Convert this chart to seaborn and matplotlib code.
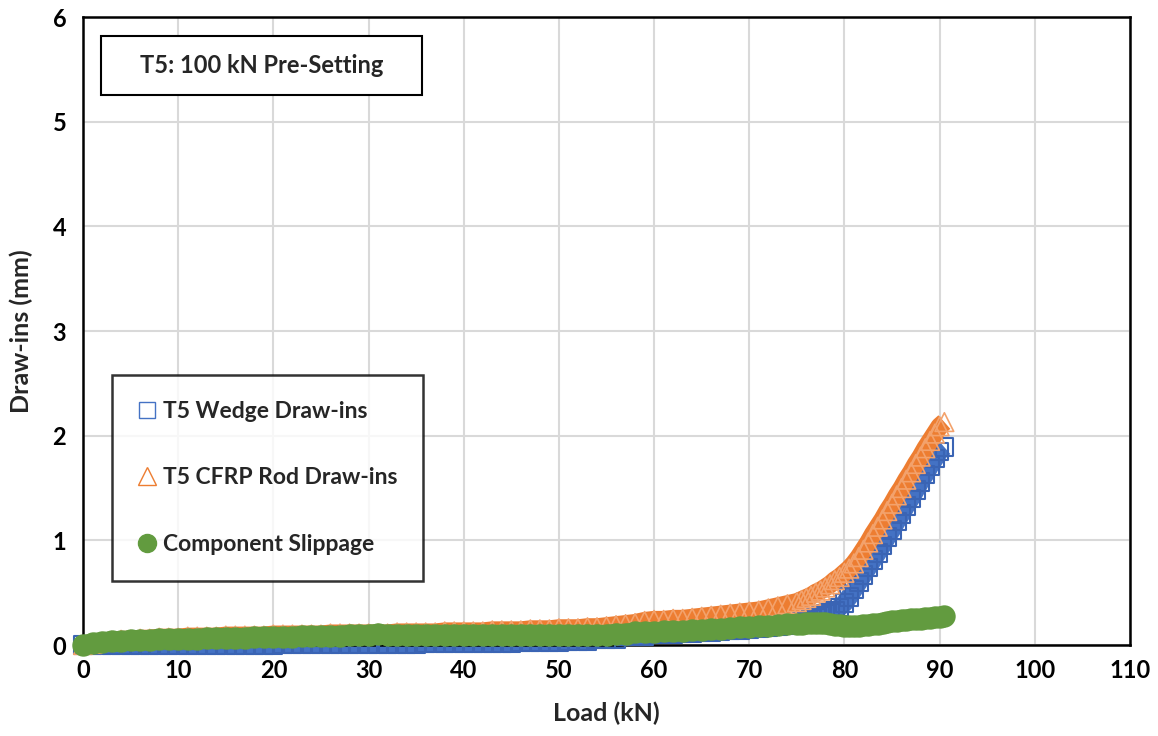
import numpy as np
import pandas as pd
import matplotlib
matplotlib.use("Agg")
import matplotlib.pyplot as plt
import seaborn as sns
from matplotlib.lines import Line2D
from matplotlib.patches import Rectangle

# Load (kN) readings shared by the three series
load = [0, 1, 2, 3, 4, 5, 6, 7, 8, 9,
        10, 11, 12, 13, 14, 15, 16, 17, 18, 19,
        20, 21, 22, 23, 24, 25, 26, 27, 28, 29,
        30, 31, 32, 33, 34, 35, 36, 37, 38, 39,
        40, 41, 42, 43, 44, 45, 46, 47, 48, 49,
        50, 51, 52, 53, 54, 55, 56, 57, 58, 59,
        60, 61, 62, 63, 64, 65, 66, 67, 68, 69,
        70, 71, 72, 73, 74, 75,
        75.5, 76, 76.5, 77, 77.5, 78, 78.5, 79, 79.5, 80,
        80.5, 81, 81.5, 82, 82.5, 83, 83.5, 84, 84.5, 85,
        85.5, 86, 86.5, 87, 87.5, 88, 88.5, 89, 89.5, 90, 90.5]

wedge = [0.0, 0.0, 0.0, 0.0, 0.0, 0.0, 0.0, 0.0, 0.0, 0.0,
         0.0, 0.0, 0.0, 0.0, 0.0, 0.0, 0.0, 0.0, 0.0, 0.0,
         0.0, 0.01, 0.01, 0.01, 0.01, 0.01, 0.01, 0.01, 0.01, 0.01,
         0.01, 0.01, 0.01, 0.01, 0.01, 0.01, 0.02, 0.02, 0.02, 0.02,
         0.02, 0.02, 0.02, 0.02, 0.02, 0.02, 0.03, 0.03, 0.03, 0.03,
         0.03, 0.04, 0.04, 0.04, 0.06, 0.06, 0.06, 0.08, 0.08, 0.08,
         0.1, 0.1, 0.1, 0.11, 0.11, 0.12, 0.12, 0.13, 0.14, 0.14,
         0.15, 0.16, 0.17, 0.18, 0.19, 0.2,
         0.22, 0.23, 0.25, 0.26, 0.28, 0.3, 0.31, 0.33, 0.36, 0.4,
         0.46, 0.53, 0.6, 0.67, 0.74, 0.81, 0.88, 0.95, 1.03, 1.1,
         1.18, 1.25, 1.33, 1.4, 1.48, 1.56, 1.63, 1.71, 1.78, 1.85, 1.89]

rod = [0.0, 0.01, 0.03, 0.04, 0.05, 0.05, 0.06, 0.06, 0.07, 0.07,
       0.07, 0.08, 0.08, 0.08, 0.08, 0.09, 0.09, 0.09, 0.09, 0.09,
       0.1, 0.1, 0.1, 0.1, 0.1, 0.1, 0.11, 0.11, 0.11, 0.11,
       0.11, 0.11, 0.11, 0.12, 0.12, 0.12, 0.12, 0.12, 0.13, 0.13,
       0.13, 0.13, 0.13, 0.14, 0.14, 0.14, 0.14, 0.15, 0.15, 0.15,
       0.16, 0.16, 0.16, 0.17, 0.17, 0.18, 0.19, 0.2, 0.21, 0.23,
       0.24, 0.24, 0.25, 0.25, 0.26, 0.27, 0.28, 0.29, 0.3, 0.31,
       0.32, 0.33, 0.35, 0.37, 0.39, 0.41,
       0.43, 0.45, 0.47, 0.5, 0.52, 0.55, 0.58, 0.62, 0.65, 0.69,
       0.73, 0.78, 0.84, 0.91, 0.98, 1.06, 1.13, 1.2, 1.28, 1.35,
       1.43, 1.5, 1.58, 1.65, 1.73, 1.8, 1.88, 1.95, 2.02, 2.09, 2.13]

slippage = [0.0, 0.02, 0.03, 0.04, 0.04, 0.05, 0.05, 0.05, 0.06, 0.06,
            0.06, 0.06, 0.06, 0.07, 0.07, 0.07, 0.07, 0.07, 0.08, 0.08,
            0.08, 0.08, 0.08, 0.09, 0.09, 0.09, 0.09, 0.09, 0.1, 0.1,
            0.1, 0.11, 0.1, 0.1, 0.1, 0.1, 0.1, 0.1, 0.1, 0.1,
            0.1, 0.1, 0.1, 0.1, 0.1, 0.1, 0.1, 0.1, 0.1, 0.1,
            0.1, 0.1, 0.1, 0.1, 0.1, 0.1, 0.11, 0.11, 0.12, 0.12,
            0.12, 0.13, 0.13, 0.13, 0.14, 0.14, 0.15, 0.15, 0.16, 0.17,
            0.17, 0.18, 0.18, 0.19, 0.2, 0.2,
            0.2, 0.21, 0.21, 0.21, 0.21, 0.21, 0.2, 0.19, 0.19, 0.18,
            0.18, 0.18, 0.18, 0.19, 0.19, 0.2, 0.2, 0.21, 0.22, 0.23,
            0.23, 0.24, 0.24, 0.25, 0.25, 0.25, 0.26, 0.26, 0.27, 0.27, 0.28]

series_names = ["T5 Wedge Draw-ins", "T5 CFRP Rod Draw-ins", "Component Slippage"]
blue = "#4472C4"
orange = "#ED7D31"
green = "#629B3F"

df = pd.DataFrame({"load": load, "wedge": wedge, "rod": rod, "slip": slippage})

sns.set_style("white")
plt.rcParams["font.family"] = ["Lato", "DejaVu Sans"]
plt.rcParams["font.weight"] = "bold"

fig = plt.figure(figsize=(11.58, 7.36), dpi=100)
ax = fig.add_axes([0.0717, 0.1236, 0.9041, 0.8533])

# the logger wrote hundreds of overlapping markers -> thick band underneath
sns.lineplot(data=df, x="load", y="wedge", ax=ax, color=blue, linewidth=13,
             solid_capstyle="butt", solid_joinstyle="round",
             sort=False, estimator=None, clip_on=False, zorder=2, legend=False)
sns.scatterplot(data=df, x="load", y="wedge", ax=ax, marker="s", s=160,
                facecolors="none", edgecolors="#3a64b4", linewidth=1.5,
                clip_on=False, zorder=3, legend=False)
sns.lineplot(data=df, x="load", y="rod", ax=ax, color=orange, linewidth=13,
             solid_capstyle="butt", solid_joinstyle="round",
             sort=False, estimator=None, clip_on=False, zorder=3.5, legend=False)
sns.scatterplot(data=df, x="load", y="rod", ax=ax, marker="^", s=180,
                facecolors="none", edgecolors="#f3a26c", linewidth=1.2,
                clip_on=False, zorder=4, legend=False)
sns.lineplot(data=df, x="load", y="slip", ax=ax, color=green, linewidth=14,
             solid_capstyle="butt", solid_joinstyle="round",
             sort=False, estimator=None, clip_on=False, zorder=4.5, legend=False)
sns.scatterplot(data=df, x="load", y="slip", ax=ax, marker="o", s=260,
                color=green, edgecolor=green, linewidth=0,
                clip_on=False, zorder=5, legend=False)

ax.set_xlim(0, 110)
ax.set_ylim(0, 6)
ax.set_xticks(np.arange(0, 111, 10))
ax.set_yticks(np.arange(0, 7, 1))
ax.grid(True, color="#d9d9d9", linewidth=1.5, zorder=0)
ax.set_axisbelow(True)
for sp in ax.spines.values():
    sp.set_color("black")
    sp.set_linewidth(1.8)
ax.tick_params(axis="both", direction="inout", length=12, width=1.8,
               labelsize=17, colors="black")
ax.tick_params(axis="y", pad=6)
ax.tick_params(axis="x", pad=4)
for lab in ax.get_xticklabels() + ax.get_yticklabels():
    lab.set_fontweight("bold")

ax.set_xlabel("Load (kN)", fontsize=18, fontweight="bold", labelpad=14)
ax.set_ylabel("Draw-ins (mm)", fontsize=18, fontweight="bold", labelpad=14)

ax.add_patch(Rectangle((0.0172, 0.8756), 0.3066, 0.0941, transform=ax.transAxes,
                       facecolor="white", edgecolor="black", linewidth=1.5,
                       zorder=6, clip_on=False))
ax.text(0.1705, 0.923, "T5: 100 kN Pre-Setting", transform=ax.transAxes,
        fontsize=17, fontweight="bold", ha="center", va="center", zorder=7)

handles = [
    Line2D([], [], linestyle="none", marker="s", markersize=12,
           markerfacecolor="none", markeredgecolor=blue, markeredgewidth=1.0),
    Line2D([], [], linestyle="none", marker="^", markersize=13,
           markerfacecolor="none", markeredgecolor=orange, markeredgewidth=1.0),
    Line2D([], [], linestyle="none", marker="o", markersize=13,
           markerfacecolor=green, markeredgecolor=green),
]
leg = ax.legend(handles, series_names, loc="upper left",
                bbox_to_anchor=(0.028, 0.43), fontsize=16.5, frameon=True,
                fancybox=False, borderpad=1.12, labelspacing=2.0,
                handlelength=0.8, handletextpad=0.3, borderaxespad=0)
leg.get_frame().set_edgecolor("black")
leg.get_frame().set_linewidth(1.8)
leg.set_zorder(8)
for t in leg.get_texts():
    t.set_fontweight("bold")

fig.savefig("out.png", dpi=100)
